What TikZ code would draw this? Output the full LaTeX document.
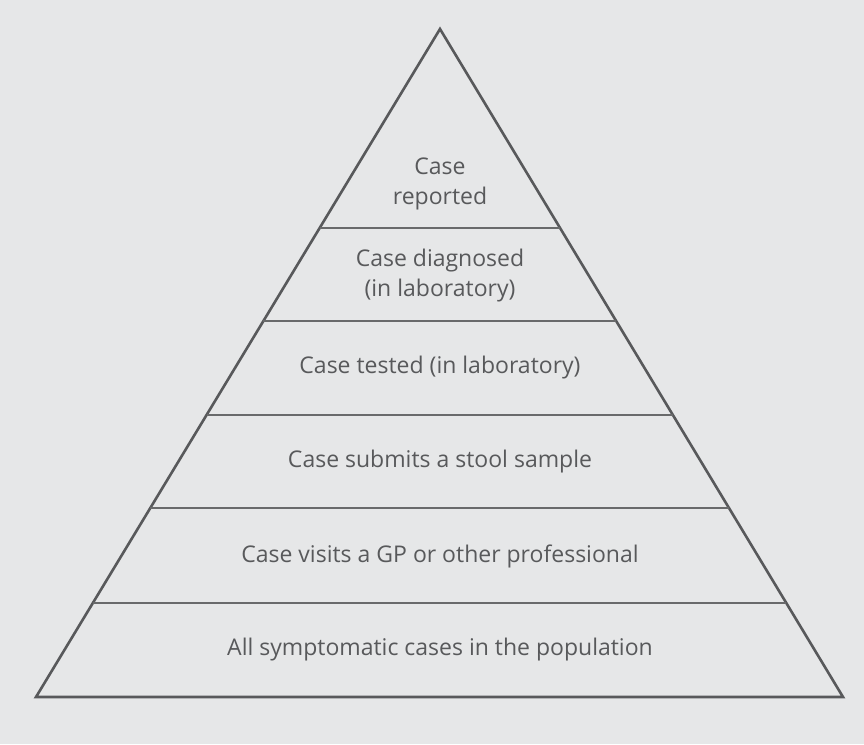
\documentclass[tikz,border=0pt]{standalone}
\usepackage{fontspec}
\setmainfont{Open Sans}
\usetikzlibrary{calc}
\definecolor{bggray}{HTML}{E6E7E8}
\definecolor{inkgray}{HTML}{58595B}
\tikzset{
  edge/.style={draw=inkgray, line width=2.6pt, line join=miter},
  divider/.style={draw=inkgray!90, line width=1.4pt},
  level/.style={text=inkgray, align=center, font=\fontsize{23}{30}\selectfont, inner sep=0pt}
}

\begin{document}
\begin{tikzpicture}[x=1pt,y=-1pt]
        % Background
        \fill[bggray] (0,0) rectangle (864,744);
        \useasboundingbox (0,0) rectangle (864,744);
        % Corners of the pyramid
        \coordinate (apex) at (440,29);
        \coordinate (bl) at (36,697);
        \coordinate (br) at (843,697);
        % Outline
        \draw[edge] (apex) -- (br) -- (bl) -- cycle;
        % Level dividers
        \foreach \yy in {228,321,415,508,603}
          \draw[divider] ($(apex)!{(\yy-29)/668}!(bl)$) -- ($(apex)!{(\yy-29)/668}!(br)$);
        % Labels, top to bottom
        \node[level] (reported) at (440,184) {Case\\reported};
        \node[level] (diagnosed) at (440,276) {Case diagnosed\\(in laboratory)};
        \node[level] (tested) at (440,368) {Case tested (in laboratory)};
        \node[level] (sample) at (440,462) {Case submits a stool sample};
        \node[level] (visits) at (440,556) {Case visits a GP or other professional};
        \node[level] (population) at (440,650) {All symptomatic cases in the population};
      \end{tikzpicture}
\end{document}
